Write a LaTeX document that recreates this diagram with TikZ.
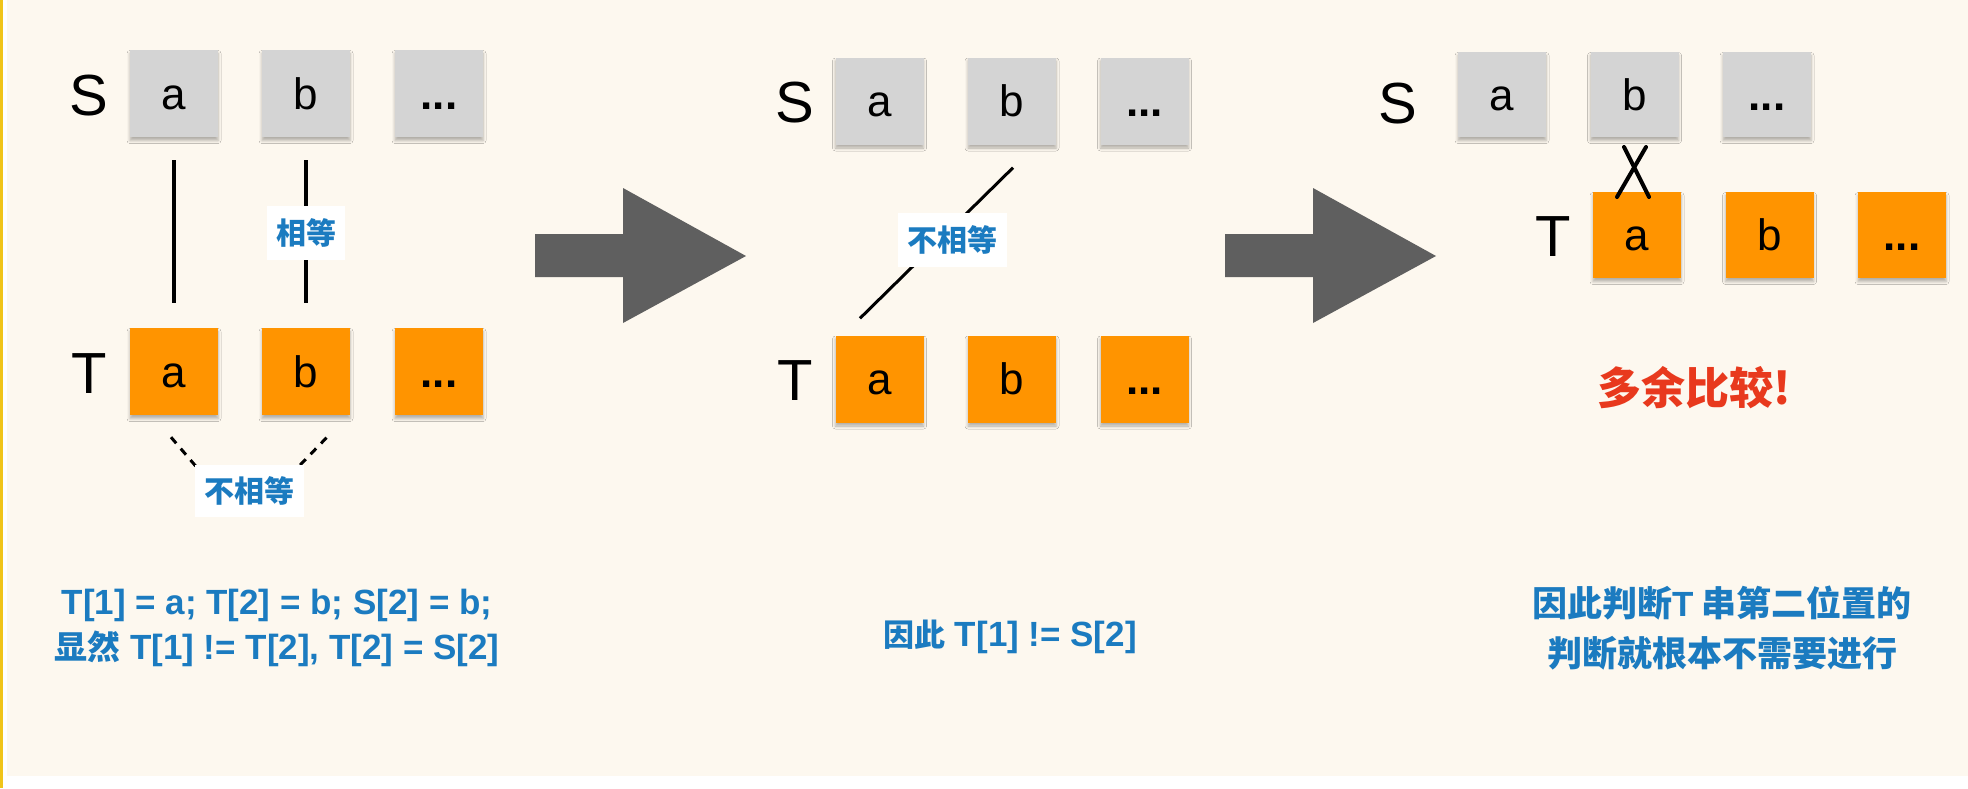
\documentclass[tikz,border=0pt]{standalone}
\usepackage{fontspec}
\setmainfont{Liberation Sans}
\newfontfamily\cjk{Noto Sans CJK SC}
\usetikzlibrary{shadows.blur,calc}
\definecolor{bgc}{HTML}{FDF8EF}
\definecolor{sgray}{HTML}{D4D4D4}
\definecolor{torange}{HTML}{FF9400}
\definecolor{tblue}{HTML}{1B7BC0}
\definecolor{tred}{HTML}{E8391D}
\definecolor{agray}{HTML}{5F5F5F}
\definecolor{yline}{HTML}{F0C419}
\begin{document}
\begin{tikzpicture}[x=1pt,y=-1pt,
  cell/.style={minimum width=88pt,minimum height=87pt,inner sep=0pt,draw=none,
    text height=31pt,text depth=0pt,font=\fontsize{44}{48}\selectfont,
    blur shadow={shadow xshift=0pt,shadow yshift=-3.5pt,shadow blur radius=3pt,shadow opacity=30}},
  scell/.style={cell,fill=sgray},
  tcell/.style={cell,fill=torange},
  rowlbl/.style={font=\fontsize{58}{60}\selectfont,inner sep=0pt,text height=43pt,text depth=0pt},
  lbl/.style={fill=white,inner sep=0pt,minimum height=54pt,text=tblue,
    font=\cjk\bfseries\fontsize{30}{32}\selectfont},
  rough/.style={line width=3.5pt,black},
  dashline/.style={line width=3pt,black,dash pattern=on 8pt off 7pt},
  note/.style={text=tblue,font=\bfseries\fontsize{35}{45}\selectfont,align=center,inner sep=0pt},
  bigarrow/.style={fill=agray,draw=none},
]
\useasboundingbox (0,0) rectangle (1968,788);
% background
\fill[white] (0,0) rectangle (1968,788);
\fill[bgc] (7,0) rectangle (1968,776);
\fill[yline] (0,0) rectangle (2.5,788);

% ---------- panel 1 ----------
\node[rowlbl] (S1) at (89,93.5) {S};
\node[scell] (sa1) at (174,93.5) {a};
\node[scell] (sb1) at (306,93.5) {b};
\node[scell] (sd1) at (439,93.5) {\bfseries...};
\node[rowlbl] (T1) at (89,371.5) {T};
\node[tcell] (ta1) at (174,371.5) {a};
\node[tcell] (tb1) at (306,371.5) {b};
\node[tcell] (td1) at (439,371.5) {\bfseries...};

\draw[rough,shorten <=23pt,shorten >=25pt] (sa1.south) -- (ta1.north);
\draw[rough,shorten <=23pt,shorten >=25pt] (sb1.south) -- node[lbl,minimum width=78pt] (eq1) {相等} (tb1.north);

\coordinate (c1) at ($(ta1.south)+(-3,22)$);
\coordinate (c2) at ($(tb1.south)+(21,22)$);
\coordinate (c3) at (217,491);
\coordinate (c4) at (275,491);
\draw[dashline] (c1) -- (c3) -- (c4) -- (c2);
\node[lbl,minimum width=109pt,minimum height=52pt] (ne1) at (249,491) {不相等};

\node[note] (txt1) at (277,628) {T[1] = a; T[2] = b; S[2] = b;\\{\cjk\fontsize{33}{45}\selectfont 显然} T[1] != T[2], T[2] = S[2]};

% arrow 1
\fill[bigarrow] (535,234) -- (623,234) -- (623,188) -- (746,256) -- (623,323) -- (623,277) -- (535,277) -- cycle;

% ---------- panel 2 ----------
\node[rowlbl] (S2) at (795,101) {S};
\node[scell] (sa2) at (879.5,101) {a};
\node[scell] (sb2) at (1012,101) {b};
\node[scell] (sd2) at (1144.5,101) {\bfseries...};
\node[rowlbl] (T2) at (795,379) {T};
\node[tcell] (ta2) at (879.5,379) {a};
\node[tcell] (tb2) at (1012,379) {b};
\node[tcell] (td2) at (1144.5,379) {\bfseries...};

\draw[rough,line width=3pt] ($(sb2.south)+(1,23)$) -- ($(ta2.north)+(-19.5,-17)$);
\node[lbl,minimum width=109pt] (ne2) at (952.5,240) {不相等};

\node[note] (txt2) at (1010,637) {{\cjk\fontsize{31}{45}\selectfont 因此} T[1] != S[2]};

% arrow 2
\fill[bigarrow] (1225,234) -- (1313,234) -- (1313,188) -- (1436,256) -- (1313,323) -- (1313,277) -- (1225,277) -- cycle;

% ---------- panel 3 ----------
\node[rowlbl] (S3) at (1398,101.5) {S};
\node[scell,minimum height=85pt] (sa3) at (1502,94.5) {a};
\node[scell,minimum height=85pt] (sb3) at (1634.5,94.5) {b};
\node[scell,minimum height=85pt] (sd3) at (1767,94.5) {\bfseries...};
\node[rowlbl] (T3) at (1553.5,235) {T};
\node[tcell,minimum height=86pt] (ta3) at (1637,235) {a};
\node[tcell,minimum height=86pt] (tb3) at (1769.5,235) {b};
\node[tcell,minimum height=86pt] (td3) at (1902,235) {\bfseries...};

% cross mark
\draw[line width=4pt,line cap=round] (1624,147) -- (1649,197);
\draw[line width=4pt,line cap=round] (1646,147) -- (1617,197);

\node[text=tred,inner sep=0pt,font=\cjk\bfseries\fontsize{44}{48}\selectfont] (red3) at (1694,388) {多余比较!};

\node[note,font=\cjk\bfseries\fontsize{35}{50}\selectfont] (txt3) at (1722,628) {因此判断{\fontspec{Liberation Sans}\bfseries T} 串第二位置的\\判断就根本不需要进行};
\end{tikzpicture}
\end{document}
